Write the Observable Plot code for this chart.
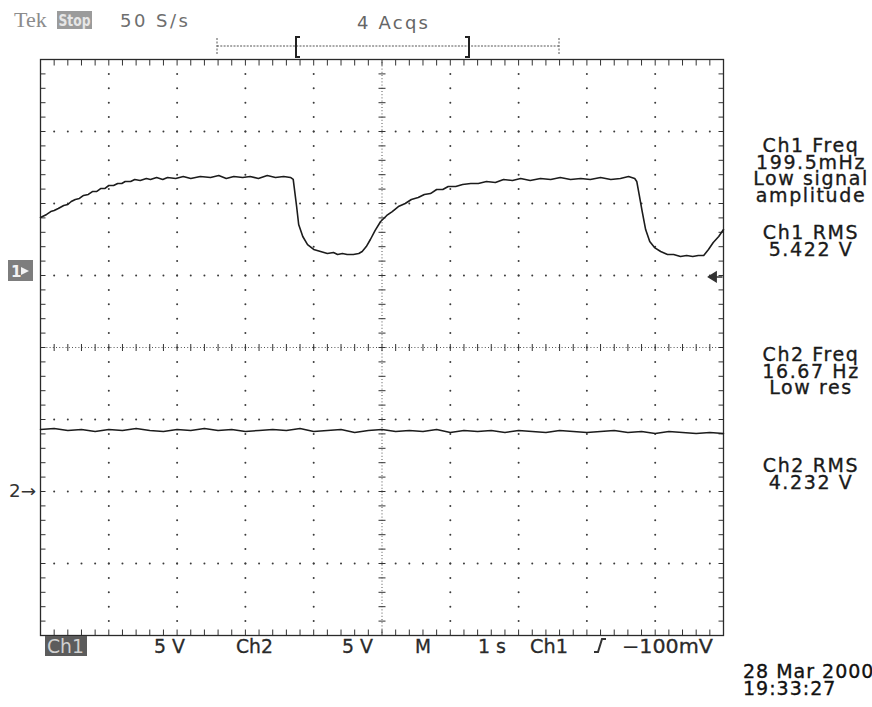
<!DOCTYPE html>
<html><head><meta charset="utf-8">
<script src="https://cdn.jsdelivr.net/npm/d3@7"></script>
<script src="https://cdn.jsdelivr.net/npm/@observablehq/plot@0.6"></script>
<style>
html,body{margin:0;padding:0;background:#fff;}
#chart{position:relative;width:872px;height:707px;overflow:hidden;background:#fff;}
</style></head><body><div id="chart"></div>
<script>
const ch1Time = [0.00,0.09,0.15,0.20,0.26,0.34,0.40,0.45,0.51,0.57,0.63,0.70,0.76,0.82,0.88,0.94,1.00,1.07,1.13,1.19,1.24,1.32,1.38,1.46,1.55,1.61,1.70,1.79,1.86,1.98,2.09,2.20,2.34,2.49,2.61,2.72,2.83,2.96,3.07,3.19,3.32,3.44,3.56,3.66,3.70,3.75,3.78,3.84,3.91,4.00,4.10,4.20,4.29,4.35,4.42,4.49,4.58,4.66,4.71,4.77,4.83,4.90,4.98,5.07,5.15,5.24,5.34,5.43,5.53,5.62,5.71,5.80,5.89,5.97,6.08,6.18,6.30,6.41,6.53,6.66,6.78,6.91,7.03,7.17,7.32,7.47,7.61,7.76,7.91,8.05,8.20,8.35,8.49,8.61,8.70,8.73,8.77,8.81,8.86,8.92,8.99,9.08,9.18,9.27,9.37,9.46,9.55,9.63,9.71,9.78,9.85,9.93,10.00];
const ch1Volts = [4.03,4.24,4.44,4.51,4.65,4.86,4.93,5.14,5.28,5.35,5.56,5.63,5.83,5.83,6.04,6.04,6.25,6.25,6.39,6.39,6.53,6.53,6.67,6.60,6.74,6.67,6.81,6.67,6.81,6.74,6.88,6.74,6.88,6.81,6.94,6.74,6.88,6.81,6.88,6.74,6.94,6.81,6.88,6.81,6.67,4.79,3.54,2.71,2.15,1.81,1.67,1.53,1.60,1.46,1.53,1.46,1.46,1.53,1.67,2.01,2.50,3.13,3.75,4.17,4.44,4.79,5.00,5.28,5.42,5.63,5.69,5.97,5.97,6.18,6.18,6.32,6.39,6.39,6.53,6.46,6.67,6.60,6.74,6.60,6.74,6.67,6.81,6.67,6.74,6.67,6.81,6.67,6.74,6.88,6.74,6.53,5.49,4.44,3.19,2.36,1.94,1.67,1.46,1.46,1.32,1.39,1.32,1.39,1.39,1.81,2.29,2.71,3.19];
const ch2Time = [0.0,0.2,0.4,0.6,0.8,1.0,1.2,1.4,1.6,1.8,2.0,2.2,2.4,2.6,2.8,3.0,3.2,3.4,3.6,3.8,4.0,4.2,4.4,4.6,4.8,5.0,5.2,5.4,5.6,5.8,6.0,6.2,6.4,6.6,6.8,7.0,7.2,7.4,7.6,7.8,8.0,8.2,8.4,8.6,8.8,9.0,9.2,9.4,9.6,9.8,10.0];
const ch2Volts = [4.31,4.38,4.24,4.31,4.17,4.31,4.24,4.38,4.24,4.17,4.31,4.24,4.38,4.24,4.31,4.17,4.24,4.31,4.24,4.38,4.17,4.24,4.31,4.10,4.24,4.31,4.17,4.24,4.17,4.31,4.10,4.24,4.17,4.24,4.10,4.24,4.17,4.10,4.24,4.17,4.10,4.17,4.24,4.10,4.17,4.03,4.17,4.10,4.03,4.10,4.03];

// scope settings
const channelNames = ["Ch1", "Ch2"];
const voltsPerDiv = [5, 5];
const groundDiv = [1, -2];       // trace ground markers, divisions from centre
const secPerDiv = 1;
const divisionsX = 10, divisionsY = 8;
const triggerLevel = -0.1;       // volts on Ch1

// texts
const headerLabels = ["Tek", "Stop", "50 S/s", "4 Acqs"];
const measurementBlocks = [
  ["Ch1 Freq", "199.5mHz", "Low signal", "amplitude"],
  ["Ch1 RMS", "5.422 V"],
  ["Ch2 Freq", "16.67 Hz", "Low res"],
  ["Ch2 RMS", "4.232 V"]
];
const statusLabels = ["Ch1", "5 V", "Ch2", "5 V", "M", "1 s", "Ch1", "\u2212100mV"];
const dateLines = ["28 Mar 2000", "19:33:27"];

// ---------- layout ----------
const W = 872, H = 707, mL = 40, mR = 149, mT = 59, mB = 72;
const FONT = "DejaVu Sans, Verdana, sans-serif";

const ch1 = ch1Time.map((t, i) => ({t, v: ch1Volts[i]}));
const ch2 = ch2Time.map((t, i) => ({t, v: ch2Volts[i]}));
const toDiv = (ch) => (d) => groundDiv[ch] + d.v / voltsPerDiv[ch];

// graticule positions (in time / division units)
const xMax = divisionsX * secPerDiv, yHalf = divisionsY / 2;
const minorX = d3.range(0, divisionsX * 5 + 1).map(i => i / 5 * secPerDiv);
const minorY = d3.range(-yHalf * 5, yHalf * 5 + 1).map(i => i / 5);
const majorX = d3.range(1, divisionsX).filter(i => i !== divisionsX / 2).map(i => i * secPerDiv);
const majorY = d3.range(-yHalf + 1, yHalf).filter(i => i !== 0);
const gridDots = [
  ...majorX.flatMap(x => minorY.slice(1, -1).map(y => ({x, y}))),
  ...majorY.flatMap(y => minorX.slice(1, -1).map(x => ({x, y})))
];
const seg = (x0, y0, x1, y1) => ({draw(ctx, size) {
  const r = Math.sqrt(size / Math.PI);
  ctx.moveTo(x0 * r, y0 * r); ctx.lineTo(x1 * r, y1 * r);
}});
const arrowLeft = {draw(ctx, size) {
  const r = Math.sqrt(size / Math.PI);
  ctx.moveTo(-r, 0); ctx.lineTo(0.1 * r, -0.7 * r); ctx.lineTo(0.1 * r, 0.7 * r); ctx.closePath();
  ctx.moveTo(0, 0); ctx.lineTo(r, 0);
}};
const cx = xMax / 2;

const plot = Plot.plot({
  width: W, height: H,
  marginLeft: mL, marginRight: mR, marginTop: mT, marginBottom: mB,
  x: {domain: [0, xMax], axis: null},
  y: {domain: [-yHalf, yHalf], axis: null},
  style: {background: "#fff"},
  marks: [
    Plot.dot(gridDots, {x: "x", y: "y", r: 1.0, fill: "#3a3a3a", stroke: "none"}),
    Plot.ruleX([cx], {stroke: "#555", strokeDasharray: "1,2.2", strokeWidth: 1}),
    Plot.ruleY([0], {stroke: "#555", strokeDasharray: "1,2.2", strokeWidth: 1}),
    Plot.dot(minorY, {x: cx, y: d => d, r: 3.5, symbol: seg(-1, 0, 1, 0), fill: "none", stroke: "#333", strokeWidth: 1}),
    Plot.dot(minorX, {x: d => d, y: 0, r: 3.5, symbol: seg(0, -1, 0, 1), fill: "none", stroke: "#333", strokeWidth: 1}),
    Plot.dot(minorY, {x: 0, y: d => d, r: 5, symbol: seg(0, 0, 1, 0), fill: "none", stroke: "#333", strokeWidth: 1}),
    Plot.dot(minorY, {x: xMax, y: d => d, r: 5, symbol: seg(-1, 0, 0, 0), fill: "none", stroke: "#333", strokeWidth: 1}),
    Plot.dot(minorX, {x: d => d, y: yHalf, r: 6, symbol: seg(0, 0, 0, 1), fill: "none", stroke: "#333", strokeWidth: 1}),
    Plot.dot(minorX, {x: d => d, y: -yHalf, r: 6, symbol: seg(0, -1, 0, 0), fill: "none", stroke: "#333", strokeWidth: 1}),
    Plot.frame({stroke: "#2a2a2a", strokeWidth: 1.3}),
    Plot.line(ch2, {x: "t", y: toDiv(1), stroke: "#1c1c1c", strokeWidth: 1.5}),
    Plot.line(ch1, {x: "t", y: toDiv(0), stroke: "#1c1c1c", strokeWidth: 1.6}),
    Plot.dot([triggerLevel], {x: xMax, y: d => groundDiv[0] + d / voltsPerDiv[0], dx: -8, r: 7, symbol: arrowLeft, fill: "#333", stroke: "#333", strokeWidth: 1.4})
  ]
});

const root = document.getElementById("chart");
root.appendChild(plot);

// ---------- annotations around the graticule ----------
const svg = d3.select(plot);
const yS = plot.scale("y");
const g = svg.append("g").attr("font-family", FONT).attr("text-anchor", "start");

// header
g.append("text").attr("x", 14).attr("y", 27).attr("font-family", "Liberation Serif, serif")
  .attr("font-size", 22).attr("fill", "#8c8c8c").text(headerLabels[0]);
g.append("rect").attr("x", 57).attr("y", 11).attr("width", 35).attr("height", 18).attr("fill", "#9b9b9b");
g.append("text").attr("x", 58.5).attr("y", 26).attr("font-size", 15).attr("font-weight", "bold")
  .attr("fill", "#e6e6e6").attr("textLength", 32).attr("lengthAdjust", "spacingAndGlyphs").text(headerLabels[1]);
g.append("text").attr("x", 120).attr("y", 27).attr("font-size", 18).attr("fill", "#6e6e6e")
  .attr("textLength", 68).text(headerLabels[2]);
g.append("text").attr("x", 357).attr("y", 29).attr("font-size", 18).attr("fill", "#666")
  .attr("textLength", 71).text(headerLabels[3]);

// record-position bracket
g.append("line").attr("x1", 217).attr("x2", 559).attr("y1", 46).attr("y2", 46)
  .attr("stroke", "#555").attr("stroke-dasharray", "2,1.3");
[217, 559].forEach(x => g.append("line").attr("x1", x).attr("x2", x).attr("y1", 38).attr("y2", 54)
  .attr("stroke", "#555").attr("stroke-dasharray", "2,1.5"));
g.append("path").attr("d", "M300,37 h-4 v20 h4").attr("fill", "none").attr("stroke", "#222").attr("stroke-width", 2);
g.append("path").attr("d", "M465,37 h4 v20 h-4").attr("fill", "none").attr("stroke", "#222").attr("stroke-width", 2);

// ground markers
const yG1 = yS.apply(groundDiv[0]), yG2 = yS.apply(groundDiv[1]);
g.append("rect").attr("x", 8).attr("y", yG1 - 15).attr("width", 25).attr("height", 21).attr("fill", "#7d7d7d");
g.append("text").attr("x", 11).attr("y", yG1 + 2).attr("font-size", 15).attr("font-weight", "bold")
  .attr("fill", "#f2f2f2").text("1");
g.append("path").attr("d", `M21,${yG1 - 8} l8,4 l-8,4 z`).attr("fill", "#f2f2f2");
g.append("text").attr("x", 9).attr("y", yG2 + 6).attr("font-size", 17).attr("fill", "#333")
  .attr("textLength", 27).attr("lengthAdjust", "spacingAndGlyphs").text("2\u2192");

// status line below the graticule
const statusX = [47, 154, 236, 342, 415, 478, 530, 622];
const statusW = [37, 31, 37, 31, 16, 28, 38, 91];
g.append("rect").attr("x", 45).attr("y", 636).attr("width", 42).attr("height", 20).attr("fill", "#5c5c5c");
statusLabels.forEach((s, i) => {
  g.append("text").attr("x", statusX[i]).attr("y", 653).attr("font-size", 19)
    .attr("fill", i === 0 ? "#d0d0d0" : "#2a2a2a")
    .attr("stroke", i === 0 ? "none" : "#2a2a2a").attr("stroke-width", 0.3)
    .attr("textLength", statusW[i]).attr("lengthAdjust", "spacingAndGlyphs").text(s);
});
// rising-edge trigger slope symbol
g.append("path").attr("d", "M594,652 h4 l4,-13 h4").attr("fill", "none").attr("stroke", "#333").attr("stroke-width", 2);

// measurement read-outs on the right
const blockBaseline = [152, 239, 361, 472];
measurementBlocks.forEach((lines, b) => {
  lines.forEach((s, i) => {
    g.append("text").attr("x", 811).attr("y", blockBaseline[b] + i * 16.7)
      .attr("text-anchor", "middle").attr("font-size", 19).attr("letter-spacing", 1.6)
      .attr("fill", "#1a1a1a").attr("stroke", "#1a1a1a").attr("stroke-width", 0.35).text(s);
  });
});

// date / time
dateLines.forEach((s, i) => {
  g.append("text").attr("x", 743).attr("y", 678 + i * 17).attr("font-size", 19)
    .attr("letter-spacing", 1).attr("fill", "#111").attr("stroke", "#111").attr("stroke-width", 0.35).text(s);
});
</script></body></html>
